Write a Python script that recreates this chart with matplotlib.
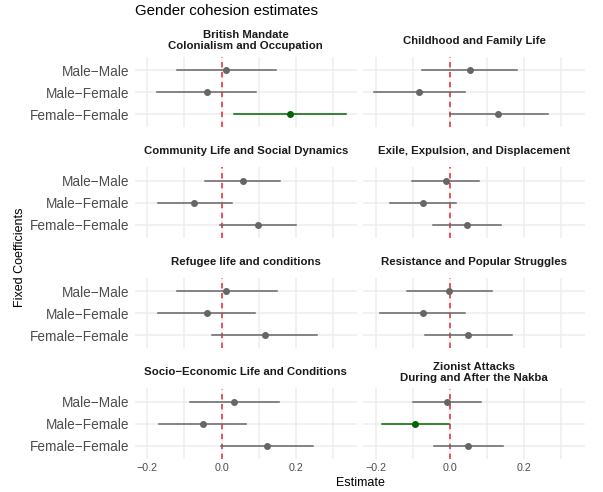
import matplotlib
matplotlib.use("Agg")
import matplotlib.pyplot as plt

plt.rcParams["font.family"] = ["Liberation Sans", "DejaVu Sans"]

# facets in display order (row by row)
facets = [
    "British Mandate\nColonialism and Occupation",
    "Childhood and Family Life",
    "Community Life and Social Dynamics",
    "Exile, Expulsion, and Displacement",
    "Refugee life and conditions",
    "Resistance and Popular Struggles",
    "Socio\u2212Economic Life and Conditions",
    "Zionist Attacks\nDuring and After the Nakba",
]
terms = ["Male\u2212Male", "Male\u2212Female", "Female\u2212Female"]

# estimate / lower / upper per facet, order: MM, MF, FF
estimate = [
    [0.013, -0.040, 0.184],
    [0.054, -0.082, 0.131],
    [0.057, -0.073, 0.099],
    [-0.011, -0.072, 0.047],
    [0.013, -0.040, 0.117],
    [-0.001, -0.073, 0.050],
    [0.034, -0.051, 0.122],
    [-0.007, -0.093, 0.050],
]
lower = [
    [-0.119, -0.173, 0.034],
    [-0.074, -0.205, 0.000],
    [-0.044, -0.172, -0.003],
    [-0.101, -0.162, -0.044],
    [-0.121, -0.170, -0.025],
    [-0.116, -0.187, -0.068],
    [-0.085, -0.168, -0.001],
    [-0.100, -0.183, -0.042],
]
upper = [
    [0.146, 0.093, 0.336],
    [0.182, 0.042, 0.264],
    [0.158, 0.027, 0.201],
    [0.079, 0.017, 0.139],
    [0.149, 0.091, 0.258],
    [0.114, 0.041, 0.168],
    [0.154, 0.065, 0.247],
    [0.083, -0.002, 0.142],
]

W, H = 603, 492
fig = plt.figure(figsize=(W / 100, H / 100), dpi=100)

col_x = [(135, 356.7), (363.3, 585)]
row_top = [56.8, 167.4, 278.0, 388.5]
panel_h = 70.4

grid_col = "#ededed"
for i, name in enumerate(facets):
    r, c = divmod(i, 2)
    x0, x1 = col_x[c]
    ax = fig.add_axes([x0 / W, 1 - (row_top[r] + panel_h) / H, (x1 - x0) / W, panel_h / H])
    ax.set_xlim(-0.233, 0.364)
    ax.set_ylim(3.6, 0.4)
    for s in ax.spines.values():
        s.set_visible(False)
    ax.set_xticks([-0.2, 0.0, 0.2])
    ax.set_xticks([-0.1, 0.1, 0.3], minor=True)
    ax.set_yticks([1, 2, 3])
    ax.grid(True, which="major", color=grid_col, lw=1.1)
    ax.grid(True, which="minor", axis="x", color=grid_col, lw=1.1)
    ax.set_axisbelow(True)
    ax.tick_params(which="both", length=0, colors="#4d4d4d")
    if c == 0:
        ax.set_yticklabels(terms, fontsize=9.8, color="#4d4d4d")
        ax.tick_params(axis="y", pad=4.1)
    else:
        ax.set_yticklabels([])
    if r == 3:
        ax.set_xticklabels(["\u22120.2", "0.0", "0.2"], fontsize=7.7, color="#4d4d4d")
        ax.tick_params(axis="x", pad=3.3)
    else:
        ax.set_xticklabels([])

    ax.axvline(0, color="#e8272d", lw=1.1, ls=(0, (3.5, 3)), zorder=2)
    for j in range(3):
        sig = lower[i][j] > 0 or upper[i][j] < 0
        col = "#006400" if sig else "#666666"
        ax.plot([lower[i][j], upper[i][j]], [j + 1, j + 1], color=col, lw=1.1, zorder=3)
        ax.plot(estimate[i][j], j + 1, "o", color=col, ms=4.0, zorder=4)

    ax.annotate(name, xy=(0.5, 1), xycoords="axes fraction", xytext=(0, 16.2 * 0.72),
                textcoords="offset points", ha="center", va="center",
                fontsize=8.2, fontweight="bold", color="#1a1a1a", linespacing=1.1)

fig.text(135 / W, 1 - 15 / H, "Gender cohesion estimates", fontsize=10.8, ha="left", va="baseline")
fig.text(360 / W, 1 - 483 / H, "Estimate", fontsize=9, ha="center", va="center")
fig.text(20 / W, 1 - 257 / H, "Fixed Coefficients", fontsize=9, ha="center", va="center", rotation=90)

fig.savefig("out.png", dpi=100)
